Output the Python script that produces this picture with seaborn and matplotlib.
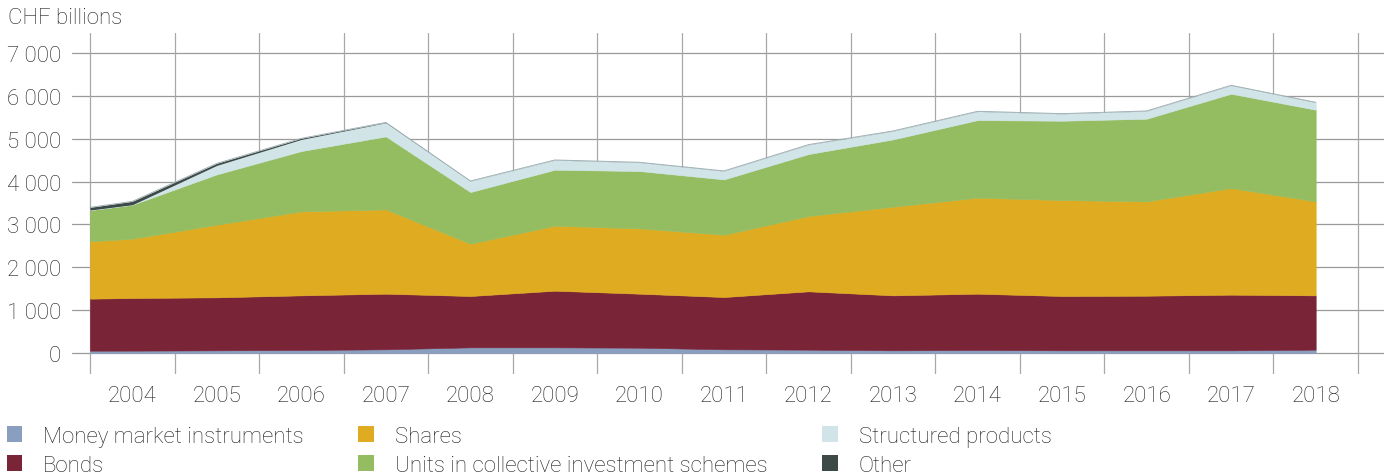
import matplotlib
matplotlib.use("Agg")
import matplotlib.pyplot as plt
from matplotlib.patches import Patch
from matplotlib.ticker import FixedLocator, FuncFormatter
import numpy as np
import pandas as pd
import seaborn as sns

# Custody account holdings by investment category, CHF billions (year-end)
period = [2003.5, 2004, 2005, 2006, 2007, 2008, 2009, 2010, 2011,
          2012, 2013, 2014, 2015, 2016, 2017, 2018]
money_market = [54, 55, 62, 70, 86, 132, 132, 124, 86, 78, 62, 70, 62, 62, 62, 78]
bonds = [1214, 1228, 1237, 1275, 1298, 1198, 1322, 1260, 1220, 1361, 1283,
         1314, 1268, 1275, 1299, 1267]
shares = [1337, 1384, 1695, 1960, 1967, 1221, 1516, 1524, 1454, 1757, 2069,
          2240, 2239, 2201, 2488, 2193]
collective = [731, 793, 1174, 1407, 1703, 1205, 1307, 1338, 1291, 1446, 1570,
              1811, 1851, 1929, 2201, 2139]
structured = [0, 0, 210, 272, 319, 256, 225, 202, 195, 218, 195, 203, 163,
              179, 194, 171]
other = [62, 78, 47, 25, 8, 3, 3, 3, 3, 3, 3, 3, 3, 3, 3, 3]

series_names = ["Money market instruments", "Bonds", "Shares",
                "Units in collective investment schemes",
                "Structured products", "Other"]
series_colors = ["#8a9fc0", "#7a2438", "#dfac21", "#94bd61", "#d1e4e8", "#3d4a47"]
year_labels = [str(y) for y in range(2004, 2019)]
y_ticks = [0, 1000, 2000, 3000, 4000, 5000, 6000, 7000]

df = pd.DataFrame({"period": period,
                   series_names[0]: money_market, series_names[1]: bonds,
                   series_names[2]: shares, series_names[3]: collective,
                   series_names[4]: structured, series_names[5]: other})
df["total"] = df[series_names].sum(axis=1)

sns.set_theme(style="white")
plt.rcParams["font.family"] = ["Roboto", "DejaVu Sans"]
text_color = "#1e1e1e"
grid_color = "#9a9a9a"
fs = 16

fig = plt.figure(figsize=(13.84, 4.77), dpi=100)
ax = fig.add_axes([72 / 1384, 1 - 375 / 477, 1 - 72 / 1384, (375 - 34) / 477])

polys = ax.stackplot(df["period"], *[df[n] for n in series_names],
                     colors=series_colors, linewidth=0, zorder=2)
for p, c in zip(polys[:-1], series_colors[:-1]):
    p.set_edgecolor(c)
    p.set_linewidth(0.4)

# thin outline along the top of the stack
sns.lineplot(data=df, x="period", y="total", ax=ax, color="#9aabb0",
             linewidth=0.6, zorder=3, legend=False)

# axes ranges and grid
ax.set_xlim(2003.287, 2018.808)
ax.set_ylim(-490, 7467)
ax.set_axisbelow(True)
for s in ax.spines.values():
    s.set_visible(False)

for yv in y_ticks:
    ax.axhline(yv, color=grid_color, linewidth=0.9, zorder=0)

year_pos = [int(y) for y in year_labels]
boundaries = [y - 0.5 for y in year_pos] + [year_pos[-1] + 0.5]
for xv in boundaries:
    ax.axvline(xv, color="#a8a8a8", linewidth=0.9, zorder=0)

ax.xaxis.set_major_locator(FixedLocator(year_pos))
ax.set_xticklabels(year_labels)
ax.yaxis.set_major_locator(FixedLocator(y_ticks))
ax.yaxis.set_major_formatter(FuncFormatter(lambda v, _: f"{int(v):,}".replace(",", " ")))
ax.tick_params(axis="x", length=0, pad=8, labelsize=fs, labelcolor=text_color)
ax.tick_params(axis="y", length=0, pad=8, labelsize=fs, labelcolor=text_color)
for lab in ax.get_xticklabels() + ax.get_yticklabels():
    lab.set_fontweight("light")
ax.set_xlabel("")
ax.set_ylabel("")
ax.grid(False)

fig.text(8 / 1384, 1 - 18 / 477, "CHF billions", fontsize=fs, color=text_color,
         va="center", ha="left", fontweight="light")

# legend: three columns, two rows
handles = [Patch(facecolor=c, edgecolor="none") for c in series_colors]
leg = fig.legend(handles, series_names, ncol=3, loc="upper left",
                 bbox_to_anchor=(0.0, 1 - 420 / 477), frameon=False,
                 fontsize=fs, handlelength=0.7, handleheight=0.7,
                 handletextpad=0.95, columnspacing=2.45, labelspacing=0.36,
                 borderaxespad=0, borderpad=0.3)
for t in leg.get_texts():
    t.set_color(text_color)
    t.set_fontweight("light")

fig.savefig("out.png", dpi=100)
